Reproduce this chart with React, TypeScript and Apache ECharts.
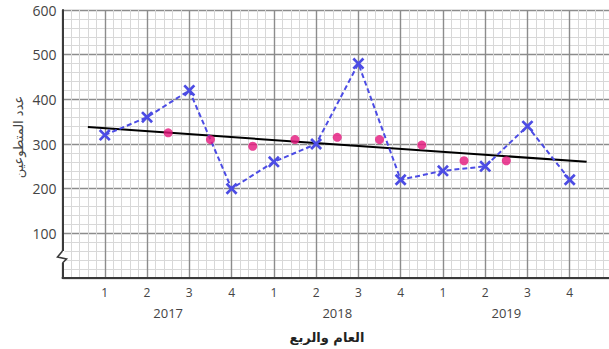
import React, { useEffect, useRef } from "react";
import * as echarts from "echarts";

const quarterLabels = ["1", "2", "3", "4", "1", "2", "3", "4", "1", "2", "3", "4"];
const yearLabels = ["2017", "2018", "2019"];
const yearCenters = [2.5, 6.5, 10.5];
const quarterIndex = [1, 2, 3, 4, 5, 6, 7, 8, 9, 10, 11, 12];
const volunteers = [320, 360, 420, 200, 260, 300, 480, 220, 240, 250, 340, 220];
const movingAvgIndex = [2.5, 3.5, 4.5, 5.5, 6.5, 7.5, 8.5, 9.5, 10.5];
const movingAvg = [325, 310, 295, 310, 315, 310, 297.5, 262.5, 262.5];
const trendIndex = [0.6, 12.4];
const trendValue = [338, 260];

const xTitle = "العام والربع";
const yTitle = "عدد المتطوعين";

const crossPath =
  "path://M0,1.6L1.6,0L5,3.4L8.4,0L10,1.6L6.6,5L10,8.4L8.4,10L5,6.6L1.6,10L0,8.4L3.4,5Z";

export default function App() {
  const ref = useRef<HTMLDivElement>(null);
  useEffect(() => {
    if (!ref.current) return;
    const chart = echarts.init(ref.current, null, { renderer: "svg" });
    const axisColor = "#3a3a3a";
    chart.setOption({
      animation: false,
      backgroundColor: "#ffffff",
      grid: { left: 62.5, right: 0, top: 10, bottom: 71, containLabel: false },
      xAxis: {
        type: "value",
        min: 0,
        max: 13,
        interval: 1,
        axisLine: { show: true, lineStyle: { color: axisColor, width: 2 } },
        axisTick: { show: false },
        axisLabel: {
          margin: 8,
          color: "#444",
          fontSize: 12,
          fontFamily: "Open Sans",
          formatter: (v: number) => {
            const i = Math.round(v);
            return i >= 1 && i <= 12 ? quarterLabels[i - 1] : "";
          },
        },
        splitLine: { show: true, lineStyle: { color: "#8c8c8c", width: 1.4 } },
        minorTick: { show: false, splitNumber: 5 },
        minorSplitLine: { show: true, lineStyle: { color: "#d8d8d8", width: 1 } },
      },
      yAxis: {
        type: "value",
        min: 0,
        max: 600,
        interval: 100,
        axisLine: { show: true, lineStyle: { color: axisColor, width: 2 } },
        axisTick: { show: false },
        axisLabel: {
          margin: 6,
          color: "#444",
          fontSize: 14,
          fontFamily: "Open Sans",
          formatter: (v: number) => (v === 0 ? "" : String(v)),
        },
        splitLine: { show: true, lineStyle: { color: "#8c8c8c", width: 1.4 } },
        minorTick: { show: false, splitNumber: 5 },
        minorSplitLine: { show: true, lineStyle: { color: "#d8d8d8", width: 1 } },
      },
      series: [
        {
          type: "line",
          data: trendIndex.map((x, i) => [x, trendValue[i]]),
          showSymbol: false,
          lineStyle: { color: "#000", width: 2 },
          z: 3,
        },
        {
          type: "line",
          data: quarterIndex.map((x, i) => [x, volunteers[i]]),
          symbol: crossPath,
          symbolSize: 12,
          itemStyle: { color: "#4c4ce4" },
          lineStyle: { color: "#4c4ce4", width: 2, type: [5, 3] },
          z: 4,
        },
        {
          type: "scatter",
          data: movingAvgIndex.map((x, i) => [x, movingAvg[i]]),
          symbol: "circle",
          symbolSize: 9,
          itemStyle: { color: "#e5157c" },
          z: 5,
        },
      ],
    });

    const px = (x: number) => chart.convertToPixel({ xAxisIndex: 0 }, x) as number;
    const py = (y: number) => chart.convertToPixel({ yAxisIndex: 0 }, y) as number;
    const axisX = px(0);
    const zeroY = py(0);
    const graphics: any[] = yearLabels.map((t, i) => ({
      type: "text",
      x: px(yearCenters[i]),
      y: zeroY + 35,
      style: {
        text: t,
        fill: "#444",
        fontSize: 13,
        fontFamily: "Open Sans",
        align: "center",
        verticalAlign: "middle",
      },
    }));
    graphics.push({
      type: "text",
      x: 327,
      y: zeroY + 59,
      style: {
        text: xTitle,
        fill: "#222",
        fontSize: 13,
        fontWeight: "bold",
        fontFamily: "DejaVu Sans",
        align: "center",
        verticalAlign: "middle",
      },
    });
    graphics.push({
      type: "text",
      x: 18,
      y: 137,
      rotation: Math.PI / 2,
      style: {
        text: yTitle,
        fill: "#444",
        fontSize: 13,
        fontFamily: "DejaVu Sans",
        align: "center",
        verticalAlign: "middle",
      },
    });
    graphics.push({
      type: "rect",
      shape: { x: axisX - 2, y: zeroY - 27, width: 4, height: 12 },
      style: { fill: "#ffffff" },
      z: 100,
    });
    graphics.push({
      type: "polyline",
      shape: {
        points: [
          [axisX, zeroY - 27],
          [axisX - 5, zeroY - 21],
          [axisX + 4, zeroY - 19],
          [axisX, zeroY - 15],
        ],
      },
      style: { stroke: axisColor, lineWidth: 1.6, fill: "none" },
      z: 101,
    });
    chart.setOption({ graphic: graphics });
    return () => chart.dispose();
  }, []);
  return (
    <div
      style={{
        position: "fixed",
        left: 0,
        top: 0,
        width: 609,
        height: 349,
        overflow: "hidden",
        background: "#fff",
      }}
    >
      <div ref={ref} style={{ width: 615, height: 349 }} />
    </div>
  );
}
